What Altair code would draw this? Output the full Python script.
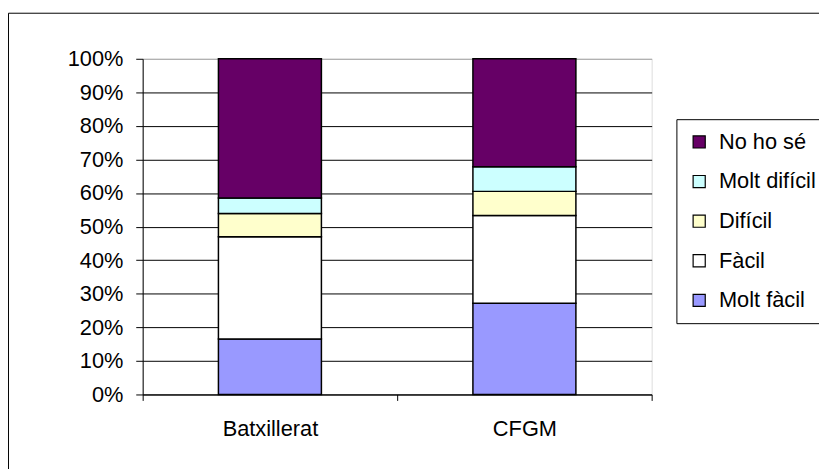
import altair as alt
import pandas as pd

categories = ["Batxillerat", "CFGM"]
levels = ["Molt fàcil", "Fàcil", "Difícil", "Molt difícil", "No ho sé"]
batxillerat = [16.5, 30.5, 6.9, 4.6, 41.5]
cfgm = [27.2, 26.1, 7.2, 7.3, 32.2]
colors = {"No ho sé": "#660066", "Molt difícil": "#CCFFFF", "Difícil": "#FFFFCC",
          "Fàcil": "#FFFFFF", "Molt fàcil": "#9999FF"}
legend_order = ["No ho sé", "Molt difícil", "Difícil", "Fàcil", "Molt fàcil"]

rows = []
for cat, vals in zip(categories, [batxillerat, cfgm]):
    tot = sum(vals)
    for i, (lev, v) in enumerate(zip(levels, vals)):
        rows.append({"cat": cat, "level": lev, "value": v / tot, "ord": i})
df = pd.DataFrame(rows)

FONT = "Liberation Sans"

bars = alt.Chart(df).mark_bar(size=104, stroke="black", strokeWidth=1.5).encode(
    x=alt.X("cat:N", sort=categories, title=None,
            scale=alt.Scale(paddingInner=0, paddingOuter=0),
            axis=alt.Axis(labelAngle=0, labelFontSize=22, labelColor="black", labelFont=FONT,
                          domainColor="black", tickColor="black", tickSize=6, tickBand="extent",
                          labelPadding=18, grid=False)),
    y=alt.Y("value:Q", stack="zero", title=None,
            scale=alt.Scale(domain=[0, 1], nice=False),
            axis=alt.Axis(format="%", values=[i / 10 for i in range(11)], labelFontSize=22,
                          labelColor="black", labelFont=FONT, domainColor="black",
                          tickColor="black", tickSize=7, labelPadding=13,
                          gridColor={"condition": {"test": "datum.value >= 1", "value": "#a0a0a0"},
                                     "value": "black"},
                          gridWidth=1)),
    color=alt.Color("level:N", scale=alt.Scale(domain=legend_order,
                                                range=[colors[k] for k in legend_order]),
                    title=None,
                    legend=alt.Legend(orient="none", legendX=539, legendY=61,
                                      symbolType="square", symbolSize=150,
                                      symbolStrokeColor="black", symbolStrokeWidth=1.2,
                                      labelFontSize=22, labelFont=FONT, labelColor="black",
                                      rowPadding=18, padding=12, strokeColor="black",
                                      fillColor="white", labelOffset=9, labelLimit=300)),
    order=alt.Order("ord:Q", sort="ascending"),
)

frame = alt.Chart(pd.DataFrame({"a": [0]})).mark_rect(
    fill="transparent", stroke="black", strokeWidth=1, clip=False
).encode(x=alt.value(-135.5), x2=alt.value(900), y=alt.value(-46), y2=alt.value(700))

chart = alt.layer(frame, bars).properties(
    width=514, height=339,
    autosize=alt.AutoSizeParams(type="none"),
    padding={"left": 136, "top": 49, "right": 169, "bottom": 73},
).configure_view(stroke="#a0a0a0", strokeWidth=1.5).configure(background="white")

chart.save("out.html", embed_options={"renderer": "svg", "actions": False})
